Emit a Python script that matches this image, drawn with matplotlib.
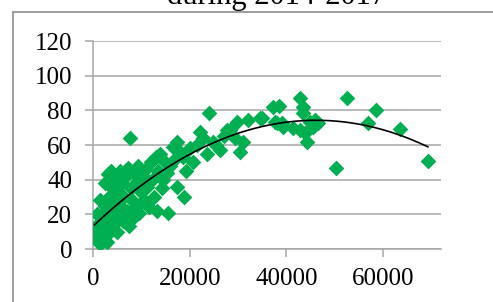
import numpy as np
import matplotlib
matplotlib.use("Agg")
import matplotlib.pyplot as plt
from matplotlib.patches import Rectangle

# x values (thousands) and y values
x_k = [0.3, 0.5, 0.8, 1.0, 1.2, 1.5, 1.8, 2.0, 2.2, 2.5, 2.8, 3.0, 3.0, 3.3, 3.5, 3.8,
       4.0, 4.2, 4.5, 4.8, 5.0, 5.2, 5.5, 5.8, 6.0, 6.2, 6.5, 6.8, 7.0, 7.2, 7.6, 7.8,
       8.0, 8.3, 8.5, 8.8, 9.0, 9.3, 9.6, 10.0, 10.3, 10.6, 11.0, 11.2, 11.5, 12.0,
       12.3, 12.6, 13.0, 13.2, 13.5, 13.9, 14.2, 14.5, 14.8, 15.3, 15.5, 16.0, 16.5,
       17.0, 17.4, 17.4, 18.0, 18.6, 18.8, 19.2, 20.0, 20.7, 21.5, 22.1, 22.7, 23.5,
       24.0, 24.8, 25.5, 26.3, 27.0, 27.7, 28.3, 29.4, 29.8, 30.4, 31.0, 32.0, 34.5,
       35.0, 37.2, 37.6, 38.0, 38.5, 39.0, 39.3, 41.4, 42.8, 42.8, 43.4, 43.4, 43.8,
       44.2, 44.9, 45.5, 45.9, 46.5, 50.3, 52.5, 56.9, 58.5, 63.5, 69.3,
       0.8, 1.5, 2.5, 3.8, 5.0, 7.5]
y_vals = [8, 12, 5, 10, 15, 3, 7, 20, 12, 25, 4, 17, 43, 30, 10, 22,
          35, 14, 40, 27, 19, 33, 45, 24, 38, 16, 30, 42, 22, 47, 64, 35,
          28, 18, 44, 38, 25, 48, 21, 33, 42, 28, 46, 36, 24, 50,
          40, 30, 53, 22, 45, 55, 35, 40, 50, 44, 21, 48, 59,
          52, 36, 62, 56, 53, 30, 45, 58, 50, 60, 67.5, 64, 55,
          78.5, 62, 60, 57, 65, 68.7, 68.7, 64, 73.3, 56, 62, 74.4, 75.6,
          75.5, 82, 73, 72.7, 82.5, 72.5, 70.4, 70, 68.6, 87, 82, 78.5, 67,
          62, 73, 70.4, 74.4, 72.7, 47, 87, 72.7, 80, 69, 51,
          20, 28, 38, 45, 10, 13]

x_ticks = [0, 20000, 40000, 60000]
y_ticks = [0, 20, 40, 60, 80, 100, 120]

x = np.array(x_k) * 1000
y = np.array(y_vals)

plt.rcParams["font.family"] = ["Liberation Serif", "DejaVu Serif"]

fig = plt.figure(figsize=(4.93, 3.02), dpi=100)
ax = fig.add_axes([93 / 493, 53 / 302, 348 / 493, 208 / 302])

grid_col = "#a6a6a6"
ax.set_xlim(0, 72000)
ax.set_ylim(0, 120)
ax.set_yticks(y_ticks)
ax.set_xticks(x_ticks)
ax.set_xticklabels([str(t) for t in x_ticks])
ax.yaxis.grid(True, color=grid_col, lw=1.1)
ax.set_axisbelow(True)
for side in ["top", "right"]:
    ax.spines[side].set_visible(False)
for side in ["left", "bottom"]:
    ax.spines[side].set_color(grid_col)
    ax.spines[side].set_linewidth(1.1)
ax.tick_params(axis="both", colors=grid_col, direction="out", length=6, width=1.1,
               labelsize=18, labelcolor="black")
ax.tick_params(axis="y", pad=9)
ax.tick_params(axis="x", pad=8)

ax.scatter(x, y, marker="D", s=8 ** 2, color="#00b050", linewidths=0, zorder=3)

# 2nd order polynomial trend line
coef = np.polyfit(x, y, 2)
xs = np.linspace(x.min(), x.max(), 200)
ax.plot(xs, np.polyval(coef, xs), color="black", lw=1.2, zorder=4)

fig.text(277 / 493, 1 - 4 / 302, "during 2014-2017", ha="center", va="baseline",
         fontsize=22)

frame = Rectangle((13 / 493, -0.2), 1.2, 1.2 - 12 / 302, transform=fig.transFigure,
                  fill=False, edgecolor="#8c8c8c", lw=1.2, clip_on=False)
fig.patches.append(frame)

fig.savefig("out.png", dpi=100)
